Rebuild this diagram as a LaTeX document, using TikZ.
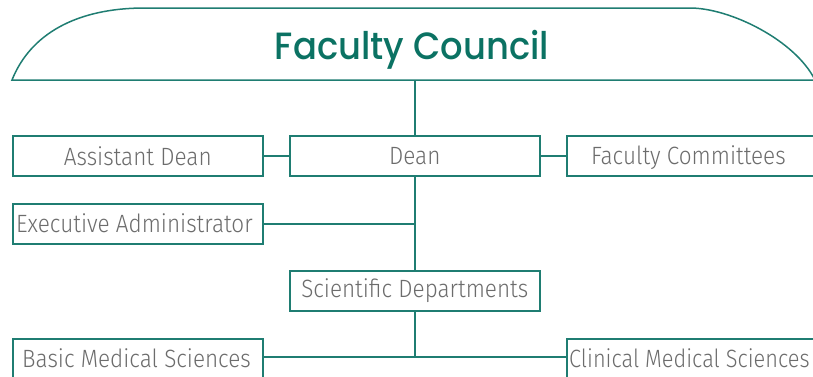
\documentclass[tikz,border=0pt]{standalone}
\usepackage{fontspec}
\setmainfont{Fira Sans}[UprightFont=* Light]
\newfontfamily\titlefont{Poppins}[UprightFont=* Medium]
\definecolor{teal1}{HTML}{1F7D72}
\definecolor{titlec}{HTML}{0B7263}
\definecolor{txtc}{HTML}{6C6C6C}
\newcommand{\bt}[1]{\scalebox{0.9}[1]{#1}}
\begin{document}
\begin{tikzpicture}[x=1pt,y=-1pt,
  box/.style={draw=teal1,fill=white,minimum width=250pt,minimum height=40pt,inner sep=0pt,
    text=txtc,font=\fontsize{25}{28}\selectfont,anchor=north west,line width=1.5pt},
  lbl/.style={text=txtc,font=\fontsize{25}{28}\selectfont,inner sep=0pt},
  conn/.style={draw=teal1,line width=1.5pt}]
\useasboundingbox (0,0) rectangle (813,376);
% title shape
\draw[teal1,line width=1.5pt] (12,80) .. controls (30,35) and (75,8) .. (145,8) -- (690,8)
  .. controls (730,8) and (795,40) .. (815,80) -- cycle;
\coordinate (tb) at (413,80);
\node[text=titlec,font=\titlefont\fontsize{38}{40}\selectfont,anchor=base,inner sep=0pt] (title) at (412,59) {\scalebox{0.93}[1]{Faculty Council}};
% boxes
\node[box] (ad) at (12,135) {\bt{Assistant Dean}};
\node[box] (dean) at (289,135) {\bt{Dean}};
\node[box,minimum width=260pt] (fc) at (566,135) {};
\node[lbl,anchor=base west] (fct) at (591,164) {\bt{Faculty Committees}};
\node[box] (ea) at (12,203) {};
\node[lbl,anchor=base west] (eat) at (16,232) {\bt{Executive Administrator}};
\node[box] (sd) at (289,270) {\bt{Scientific Departments}};
\node[box,minimum height=50pt] (bm) at (12,338) {};
\node[lbl,anchor=base west] (bmt) at (22,367) {\bt{Basic Medical Sciences}};
\node[box,minimum width=260pt,minimum height=50pt] (cm) at (566,338) {};
\node[lbl,anchor=base west] (cmt) at (569,367) {\scalebox{0.87}[1]{Clinical Medical Sciences}};
% connectors
\draw[conn] (dean.north |- tb) -- (dean.north);
\draw[conn] (ad.east) -- (dean.west);
\draw[conn] (dean.east) -- (fc.west);
\draw[conn] (dean.south) -- (sd.north);
\coordinate (eaj) at (dean.south |- ea.east);
\draw[conn] (ea.east) -- (eaj);
\coordinate (bj) at (sd.south |- 0,357);
\draw[conn] (sd.south) -- (bj);
\draw[conn] (bm.east |- bj) -- (cm.west |- bj);
\end{tikzpicture}
\end{document}
